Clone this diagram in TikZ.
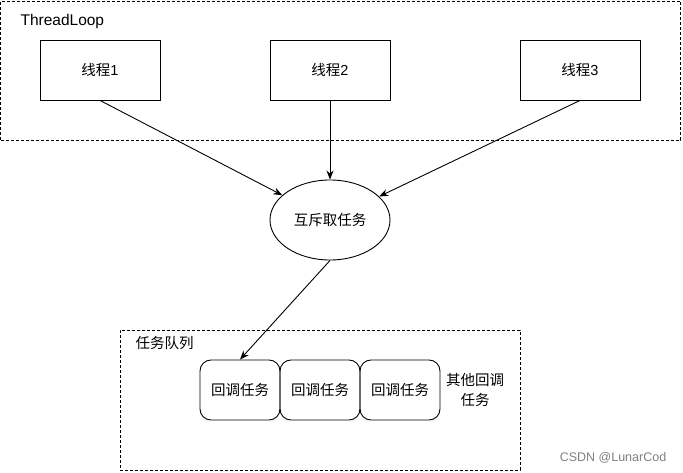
\documentclass[tikz,border=0pt]{standalone}
\usepackage{fontspec}
\setmainfont{Liberation Sans}
\newfontfamily\cjk{Noto Sans CJK SC}
\usetikzlibrary{arrows.meta,shapes.geometric}

\begin{document}
\begin{tikzpicture}[
  x=1pt, y=-1pt,
  >={Stealth[length=9pt,width=7pt]},
  every node/.style={font=\fontsize{14.5}{17}\selectfont},
  frame/.style={draw, line width=0.9pt, dash pattern=on 3pt off 2pt, inner sep=0pt},
  thread/.style={draw, line width=0.9pt, minimum width=120pt, minimum height=60pt, inner sep=0pt},
  task/.style={draw, line width=0.9pt, rounded corners=11pt, minimum width=80pt, minimum height=60pt, inner sep=0pt},
  lock/.style={draw, ellipse, line width=0.9pt, minimum width=120pt, minimum height=80pt, inner sep=0pt},
  link/.style={->, line width=0.9pt}
]
\useasboundingbox (0,0) rectangle (683,473);

% Frames
\node[frame, minimum width=680pt, minimum height=139pt] (loop) at (340.5, 70.5) {};
\node[frame, minimum width=400pt, minimum height=140pt] (queue) at (320, 400) {};
\node[anchor=west, font=\fontsize{15.5}{18}\selectfont] (looplabel) at (17, 21) {ThreadLoop};
\node[anchor=west] (queuelabel) at (132, 343) {\cjk 任务队列};

% Nodes
\node[thread] (t1) at (100, 70) {{\cjk 线程}1};
\node[thread] (t2) at (330, 70) {{\cjk 线程}2};
\node[thread] (t3) at (580, 70) {{\cjk 线程}3};

\node[lock] (mutex) at (330, 220) {\cjk 互斥取任务};

\node[task] (task1) at (240, 390) {\cjk 回调任务};
\node[task] (task2) at (320, 390) {\cjk 回调任务};
\node[task] (task3) at (400, 390) {\cjk 回调任务};
\node[align=center, font=\fontsize{14.5}{20}\selectfont\cjk] (others) at (475, 390) {其他回调\\任务};

\node[text=gray, font=\fontsize{12.5}{15}\selectfont] (mark) at (613, 458) {CSDN @LunarCod};

% Arcs
\draw[link] (t1.south) -- (mutex);
\draw[link] (t2.south) -- (mutex.north);
\draw[link] (t3.south) -- (mutex);
\draw[link] (mutex.south) -- (task1.north);

\end{tikzpicture}
\end{document}
